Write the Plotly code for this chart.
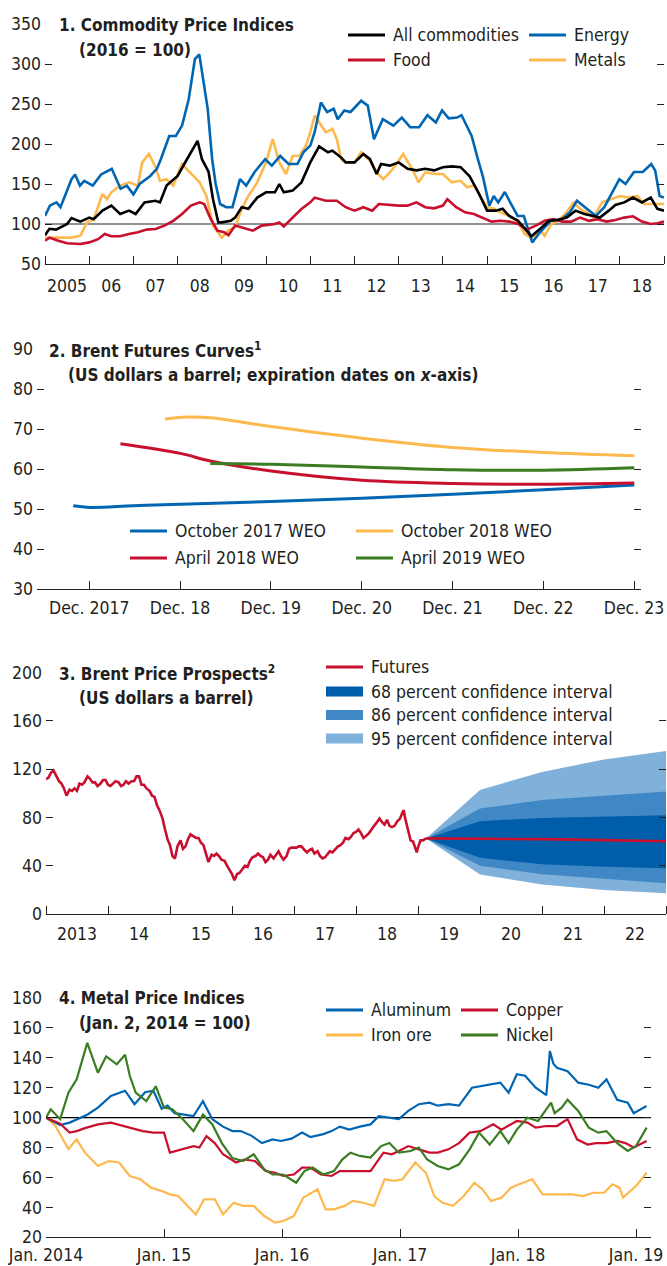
import plotly.graph_objects as go

W, H = 667, 1266
FONT = "'DejaVu Sans Condensed', 'Liberation Sans Narrow', 'Arial Narrow', sans-serif"
TXT = "#231F20"
FS = 17.5
FS_TITLE = 17

# ---------------- Panel 1: Commodity price indices (2016 = 100) ----------------
P1_YEARS = list(range(2005, 2020))
P1_LABELS = ["2005", "06", "07", "08", "09", "10", "11", "12", "13", "14", "15", "16", "17", "18"]
P1_BASE = 100
ENERGY = [(2005.00, 110), (2005.11, 123), (2005.26, 127), (2005.35, 121), (2005.60, 156), (2005.68, 162),
          (2005.79, 148), (2005.89, 154), (2006.08, 148), (2006.27, 162), (2006.51, 169), (2006.71, 144),
          (2006.85, 148), (2007.00, 137), (2007.14, 150), (2007.38, 160), (2007.53, 169), (2007.62, 181),
          (2007.81, 210), (2007.96, 210), (2008.10, 223), (2008.25, 256), (2008.39, 306), (2008.49, 312),
          (2008.68, 244), (2008.78, 181), (2008.86, 150), (2008.96, 125), (2009.10, 121), (2009.24, 121),
          (2009.41, 156), (2009.55, 148), (2009.74, 165), (2009.98, 181), (2010.13, 173), (2010.32, 185),
          (2010.51, 175), (2010.71, 175), (2010.85, 190), (2011.00, 198), (2011.10, 215), (2011.24, 252),
          (2011.38, 240), (2011.53, 244), (2011.62, 231), (2011.77, 242), (2011.91, 240), (2012.15, 254),
          (2012.30, 248), (2012.44, 206), (2012.64, 231), (2012.88, 223), (2013.07, 233), (2013.26, 221),
          (2013.46, 221), (2013.65, 236), (2013.84, 227), (2013.98, 242), (2014.13, 232), (2014.32, 233),
          (2014.42, 236), (2014.56, 221), (2014.65, 210), (2014.79, 181), (2014.90, 160), (2015.05, 123),
          (2015.15, 135), (2015.25, 127), (2015.40, 140), (2015.54, 125), (2015.69, 110), (2015.83, 110),
          (2016.02, 77), (2016.20, 90), (2016.44, 104), (2016.69, 106), (2016.88, 115), (2017.03, 129),
          (2017.17, 123), (2017.31, 117), (2017.46, 110), (2017.65, 121), (2017.84, 140), (2017.99, 156),
          (2018.13, 150), (2018.32, 165), (2018.52, 165), (2018.71, 175), (2018.80, 167), (2018.90, 135),
          (2019.00, 133)]
FOOD = [(2005.00, 79), (2005.10, 83), (2005.30, 79), (2005.50, 76), (2005.80, 75), (2006.00, 77),
        (2006.20, 81), (2006.35, 87.5), (2006.50, 84.6), (2006.70, 84.6), (2006.90, 87.5), (2007.10, 89.6),
        (2007.30, 93), (2007.50, 93.8), (2007.70, 98), (2007.90, 104), (2008.10, 112.5), (2008.30, 123),
        (2008.50, 127), (2008.60, 125), (2008.75, 106), (2008.90, 91.7), (2009.05, 89.6), (2009.15, 86),
        (2009.30, 98), (2009.50, 95), (2009.70, 91.7), (2009.90, 98), (2010.20, 100), (2010.30, 102),
        (2010.40, 97), (2010.60, 108), (2010.80, 118.8), (2011.00, 127), (2011.10, 133), (2011.35, 129),
        (2011.60, 129), (2011.80, 121), (2012.00, 116.7), (2012.20, 121), (2012.40, 116.7), (2012.55, 125),
        (2012.80, 123.8), (2013.00, 123), (2013.20, 123), (2013.40, 127), (2013.60, 121), (2013.80, 119.6),
        (2014.00, 123), (2014.10, 131), (2014.30, 121), (2014.50, 114.6), (2014.70, 112.5), (2014.90, 108),
        (2015.10, 103), (2015.30, 104), (2015.50, 103), (2015.70, 100), (2015.90, 93), (2016.10, 98),
        (2016.30, 104), (2016.50, 106), (2016.70, 103), (2016.90, 103), (2017.10, 108), (2017.30, 104),
        (2017.50, 106), (2017.70, 103), (2017.90, 105), (2018.10, 108), (2018.30, 109.6), (2018.50, 103),
        (2018.70, 100), (2018.85, 101), (2019.00, 103)]
ALL_COMMODITIES = [(2005.00, 86), (2005.10, 94), (2005.25, 93), (2005.50, 100), (2005.60, 107.5), (2005.80, 103),
                   (2006.00, 108), (2006.10, 106), (2006.30, 116.7), (2006.50, 123), (2006.70, 112.5),
                   (2006.90, 116.7), (2007.05, 112.5), (2007.25, 127), (2007.50, 129), (2007.60, 127),
                   (2007.75, 148), (2008.00, 160), (2008.15, 175), (2008.35, 194), (2008.45, 204),
                   (2008.55, 181), (2008.70, 165), (2008.80, 131), (2008.92, 102), (2009.00, 102),
                   (2009.20, 104), (2009.30, 108), (2009.45, 121), (2009.60, 119), (2009.80, 133),
                   (2010.00, 139.6), (2010.20, 139.6), (2010.30, 150), (2010.40, 139.6), (2010.60, 141.7),
                   (2010.80, 152), (2011.00, 177), (2011.20, 197), (2011.40, 189.6), (2011.50, 191.7),
                   (2011.70, 183), (2011.80, 177), (2012.00, 177), (2012.20, 187.5), (2012.35, 181),
                   (2012.50, 162.5), (2012.60, 175), (2012.80, 173), (2013.00, 177), (2013.20, 169),
                   (2013.40, 167), (2013.60, 169), (2013.80, 167), (2014.00, 171), (2014.20, 172),
                   (2014.40, 171), (2014.60, 160), (2014.80, 139.6), (2015.00, 116.7), (2015.20, 116.7),
                   (2015.35, 119), (2015.50, 110), (2015.70, 104), (2015.85, 94), (2016.00, 84.6),
                   (2016.20, 94), (2016.40, 104), (2016.60, 105), (2016.80, 108), (2017.00, 116.7),
                   (2017.20, 112.5), (2017.40, 110), (2017.55, 108), (2017.75, 116.7), (2017.90, 123.8),
                   (2018.10, 127), (2018.30, 133), (2018.50, 127), (2018.70, 133), (2018.85, 119),
                   (2019.00, 116.7)]
METALS = [(2005.00, 83), (2005.30, 83), (2005.60, 83), (2005.80, 85.4), (2005.95, 102), (2006.10, 106),
          (2006.30, 137.5), (2006.40, 131), (2006.50, 139.6), (2006.70, 148), (2006.90, 152), (2007.10, 148),
          (2007.20, 177), (2007.35, 187.5), (2007.50, 171), (2007.60, 154), (2007.75, 156), (2007.90, 148),
          (2008.10, 175), (2008.20, 169), (2008.35, 160), (2008.50, 152), (2008.65, 135), (2008.80, 98),
          (2009.00, 83), (2009.15, 92), (2009.30, 96), (2009.45, 119), (2009.60, 135), (2009.80, 152),
          (2010.00, 177), (2010.15, 206), (2010.30, 177), (2010.45, 162.5), (2010.60, 185), (2010.75, 185.4),
          (2010.90, 198), (2011.00, 214.6), (2011.10, 235.6), (2011.20, 227), (2011.35, 214.6), (2011.50, 219),
          (2011.60, 206), (2011.70, 181), (2011.80, 177), (2012.00, 177), (2012.15, 189.6), (2012.35, 179),
          (2012.50, 164.6), (2012.65, 156), (2012.80, 164.6), (2012.95, 175), (2013.10, 187.5),
          (2013.30, 169), (2013.45, 152), (2013.60, 164.6), (2013.80, 162.5), (2014.00, 162.5),
          (2014.20, 152), (2014.40, 154), (2014.55, 146), (2014.70, 148), (2014.85, 135), (2015.00, 121),
          (2015.15, 119), (2015.30, 114.6), (2015.50, 110), (2015.70, 102), (2015.85, 87.5), (2016.00, 83),
          (2016.20, 92), (2016.30, 85.4), (2016.45, 100), (2016.60, 104), (2016.80, 114.6), (2016.95, 127),
          (2017.10, 119), (2017.25, 114.6), (2017.40, 108), (2017.60, 127), (2017.80, 131), (2018.00, 135),
          (2018.20, 133), (2018.40, 135), (2018.55, 125), (2018.75, 125), (2019.00, 125)]

# ---------------- Panel 2: Brent futures curves ----------------
P2_TICKS = [2017.917, 2018.917, 2019.917, 2020.917, 2021.917, 2022.917, 2023.917]
P2_LABELS = ["Dec. 2017", "Dec. 18", "Dec. 19", "Dec. 20", "Dec. 21", "Dec. 22", "Dec. 23"]
OCT2017_WEO = [(2017.74, 50.8), (2017.92, 50.4), (2018.40, 50.8), (2018.92, 51.2), (2019.92, 51.9),
               (2020.92, 52.7), (2021.92, 53.7), (2022.92, 54.8), (2023.92, 56.0)]
OCT2018_WEO = [(2018.75, 72.5), (2019.00, 73.0), (2019.25, 72.8), (2019.92, 70.6), (2020.92, 67.7),
               (2021.92, 65.4), (2022.92, 64.1), (2023.92, 63.3)]
APR2018_WEO = [(2018.26, 66.3), (2018.92, 63.9), (2019.25, 62.0), (2019.92, 59.5), (2020.92, 57.2),
               (2021.92, 56.4), (2022.92, 56.2), (2023.92, 56.5)]
APR2019_WEO = [(2019.25, 61.4), (2019.92, 61.2), (2020.92, 60.5), (2021.92, 59.8), (2022.92, 59.7),
               (2023.92, 60.3)]

# ---------------- Panel 3: Brent price prospects ----------------
P3_YEARS = list(range(2013, 2024))
P3_LABELS = ["2013", "14", "15", "16", "17", "18", "19", "20", "21", "22"]
BRENT = [(2013.00, 111.6), (2013.04, 113), (2013.08, 117), (2013.12, 119), (2013.17, 114), (2013.21, 110),
         (2013.25, 108), (2013.29, 104), (2013.33, 98), (2013.38, 103), (2013.42, 102), (2013.46, 104),
         (2013.50, 102), (2013.54, 108), (2013.58, 107), (2013.62, 109), (2013.67, 114), (2013.71, 112),
         (2013.75, 109), (2013.79, 109), (2013.83, 106), (2013.88, 108), (2013.92, 111), (2013.96, 111),
         (2014.00, 107), (2014.04, 106), (2014.08, 108), (2014.12, 110), (2014.17, 109), (2014.21, 106),
         (2014.25, 107), (2014.29, 110), (2014.33, 108), (2014.38, 110), (2014.42, 110), (2014.46, 114),
         (2014.50, 114), (2014.54, 107), (2014.58, 107), (2014.62, 104), (2014.67, 102), (2014.71, 98),
         (2014.75, 97), (2014.79, 90), (2014.83, 86), (2014.88, 79), (2014.92, 70), (2014.96, 62),
         (2015.00, 57), (2015.04, 48), (2015.08, 46), (2015.12, 56), (2015.17, 61), (2015.21, 54),
         (2015.25, 56), (2015.29, 62), (2015.33, 66), (2015.38, 64), (2015.42, 63), (2015.46, 63),
         (2015.50, 59), (2015.54, 57), (2015.58, 50), (2015.62, 43), (2015.67, 49), (2015.71, 48),
         (2015.75, 50), (2015.79, 48), (2015.83, 45), (2015.88, 44), (2015.92, 40), (2015.96, 37),
         (2016.00, 33), (2016.04, 28), (2016.08, 33), (2016.12, 34), (2016.17, 37), (2016.21, 40),
         (2016.25, 39), (2016.29, 44), (2016.33, 47), (2016.38, 48), (2016.42, 50), (2016.46, 48),
         (2016.50, 47), (2016.54, 43), (2016.58, 45), (2016.62, 49), (2016.67, 46), (2016.71, 49),
         (2016.75, 52), (2016.79, 48), (2016.83, 45), (2016.88, 48), (2016.92, 54), (2016.96, 55),
         (2017.00, 55), (2017.04, 55), (2017.08, 56), (2017.12, 56), (2017.17, 53), (2017.21, 51),
         (2017.25, 53), (2017.29, 54), (2017.33, 50), (2017.38, 52), (2017.42, 48), (2017.46, 46),
         (2017.50, 47), (2017.54, 50), (2017.58, 52), (2017.62, 51), (2017.67, 54), (2017.71, 56),
         (2017.75, 57), (2017.79, 59), (2017.83, 63), (2017.88, 62), (2017.92, 64), (2017.96, 67),
         (2018.00, 68), (2018.04, 70), (2018.08, 67), (2018.12, 63), (2018.17, 65), (2018.21, 67),
         (2018.25, 70), (2018.29, 73), (2018.33, 76), (2018.38, 79), (2018.42, 76), (2018.46, 74),
         (2018.50, 78), (2018.54, 73), (2018.58, 72), (2018.62, 73), (2018.67, 77), (2018.71, 79),
         (2018.75, 84), (2018.77, 86), (2018.79, 80), (2018.83, 72), (2018.88, 61), (2018.92, 60),
         (2018.96, 53), (2018.98, 51), (2019.00, 55), (2019.04, 61), (2019.08, 61), (2019.13, 62.6)]
FAN_X = [2019.13, 2020.0, 2021.0, 2022.0, 2023.0]
FUTURES = [62.6, 62.6, 62.0, 61.2, 60.3]
CI68_HI = [62.6, 76.9, 79.6, 80.7, 81.8]
CI68_LO = [62.6, 46.5, 41.3, 39.1, 37.8]
CI86_HI = [62.6, 87.3, 94.5, 97.8, 101.4]
CI86_LO = [62.6, 39.9, 33.0, 29.5, 25.4]
CI95_HI = [62.6, 102.7, 117.6, 128.0, 135.0]
CI95_LO = [62.6, 32.8, 24.5, 19.8, 17.1]

# ---------------- Panel 4: Metal price indices (Jan. 2, 2014 = 100) ----------------
P4_TICKS = [2014, 2015, 2016, 2017, 2018, 2019]
P4_LABELS = ["Jan. 2014", "Jan. 15", "Jan. 16", "Jan. 17", "Jan. 18", "Jan. 19"]
P4_BASE = 100
ALUMINUM = [(2014.00, 100), (2014.12, 95), (2014.20, 96.7), (2014.26, 99), (2014.35, 102), (2014.44, 106.7),
            (2014.55, 114.5), (2014.67, 118), (2014.75, 109), (2014.84, 117), (2014.91, 118), (2014.98, 106),
            (2015.03, 108), (2015.09, 103), (2015.16, 102), (2015.25, 101), (2015.33, 111), (2015.41, 99),
            (2015.50, 94), (2015.58, 91), (2015.65, 91), (2015.74, 88), (2015.83, 83), (2015.92, 85.5),
            (2015.99, 84.4), (2016.08, 86), (2016.17, 90), (2016.24, 87), (2016.35, 89), (2016.42, 91),
            (2016.49, 94), (2016.57, 92), (2016.66, 94), (2016.75, 95.5), (2016.82, 101), (2016.91, 100),
            (2016.99, 99), (2017.07, 104.5), (2017.16, 109), (2017.25, 110), (2017.32, 108), (2017.41, 109),
            (2017.50, 108), (2017.61, 120), (2017.68, 121), (2017.77, 122), (2017.85, 123.4), (2017.92, 116.7),
            (2017.99, 129), (2018.06, 128), (2018.15, 120), (2018.24, 115), (2018.27, 144.6), (2018.30, 136),
            (2018.33, 133.4), (2018.42, 131), (2018.51, 123.4), (2018.60, 122), (2018.68, 120),
            (2018.75, 125.6), (2018.84, 112), (2018.93, 110), (2018.98, 103), (2019.09, 107.8)]
COPPER = [(2014.00, 100), (2014.12, 96), (2014.20, 90), (2014.26, 91), (2014.33, 93), (2014.44, 95.5),
          (2014.55, 96.7), (2014.66, 94.4), (2014.73, 92.6), (2014.82, 91), (2014.91, 90), (2015.00, 90),
          (2015.05, 76.6), (2015.16, 78.8), (2015.25, 81), (2015.30, 80), (2015.36, 87.7), (2015.43, 83),
          (2015.50, 75.5), (2015.61, 70), (2015.68, 72), (2015.77, 71), (2015.86, 64.3), (2015.94, 63.2),
          (2016.01, 61), (2016.10, 62), (2016.17, 66.6), (2016.24, 66.6), (2016.33, 62), (2016.42, 61),
          (2016.49, 64.3), (2016.58, 64.3), (2016.66, 64.3), (2016.75, 64.3), (2016.86, 76.6), (2016.93, 75.5),
          (2016.99, 77.7), (2017.07, 81), (2017.16, 78.8), (2017.25, 76.6), (2017.32, 76.6), (2017.41, 78.8),
          (2017.50, 83), (2017.59, 90), (2017.68, 91), (2017.79, 95.5), (2017.86, 92), (2017.94, 95.5),
          (2017.99, 97.8), (2018.08, 96.7), (2018.15, 93.3), (2018.24, 94.4), (2018.33, 94.4), (2018.42, 99),
          (2018.50, 85.5), (2018.59, 82), (2018.66, 83), (2018.75, 83), (2018.84, 84.4), (2018.91, 83),
          (2018.98, 80), (2019.09, 84.4)]
IRON_ORE = [(2014.00, 100), (2014.08, 94.4), (2014.19, 79), (2014.26, 85.5), (2014.33, 76.6), (2014.44, 67.7),
            (2014.53, 71), (2014.62, 70), (2014.71, 61), (2014.80, 58.8), (2014.89, 53.2), (2014.98, 51),
            (2015.05, 48.7), (2015.12, 47.6), (2015.20, 41), (2015.27, 35.3), (2015.34, 45.4), (2015.43, 45.4),
            (2015.50, 35.3), (2015.59, 43.1), (2015.67, 41), (2015.76, 41), (2015.85, 34.2), (2015.94, 29.8),
            (2016.01, 30.9), (2016.10, 34.2), (2016.18, 46.5), (2016.30, 52), (2016.37, 38.7), (2016.44, 38.7),
            (2016.53, 41), (2016.60, 44.3), (2016.69, 43.1), (2016.78, 41), (2016.87, 58.8), (2016.95, 57.7),
            (2017.02, 58.8), (2017.13, 70), (2017.22, 63), (2017.29, 47.6), (2017.36, 43.1), (2017.45, 41),
            (2017.54, 47.6), (2017.63, 56.5), (2017.70, 52), (2017.77, 44.3), (2017.86, 46.5), (2017.94, 53.2),
            (2018.01, 55.4), (2018.12, 58.8), (2018.21, 48.7), (2018.28, 48.7), (2018.37, 48.7),
            (2018.46, 48.7), (2018.55, 47.6), (2018.64, 49.8), (2018.73, 49.8), (2018.80, 55.4),
            (2018.86, 53.2), (2018.89, 46.5), (2019.00, 54.3), (2019.09, 63.2)]
NICKEL = [(2014.00, 100), (2014.04, 105.6), (2014.12, 99), (2014.19, 116.7), (2014.26, 125.6), (2014.35, 150),
          (2014.44, 130), (2014.51, 141), (2014.60, 135.7), (2014.67, 142), (2014.71, 128), (2014.76, 116.7),
          (2014.85, 111), (2014.93, 121), (2015.00, 106.7), (2015.07, 105.6), (2015.16, 99), (2015.25, 91),
          (2015.33, 102), (2015.41, 95.5), (2015.49, 83), (2015.58, 73), (2015.67, 71), (2015.76, 75.5),
          (2015.85, 65.4), (2015.92, 62), (2016.01, 62), (2016.12, 56.5), (2016.19, 64.3), (2016.26, 66.6),
          (2016.35, 62), (2016.44, 64.3), (2016.51, 72), (2016.58, 76.6), (2016.66, 74.4), (2016.75, 73.3),
          (2016.84, 81), (2016.91, 83), (2016.99, 76.6), (2017.09, 77.7), (2017.16, 80), (2017.23, 72),
          (2017.32, 67.7), (2017.41, 65.4), (2017.50, 68.8), (2017.59, 78.8), (2017.67, 90), (2017.76, 82),
          (2017.85, 91), (2017.92, 83), (2017.99, 92), (2018.08, 100), (2018.17, 97.8), (2018.28, 110),
          (2018.31, 103), (2018.37, 106.7), (2018.42, 112), (2018.51, 104.5), (2018.60, 93.3), (2018.68, 90),
          (2018.75, 91), (2018.84, 83), (2018.93, 77.7), (2019.00, 81), (2019.09, 93.3)]

# ---------------- colours ----------------
C_BLACK = "#000000"
C_BLUE = "#0066B3"
C_RED = "#C8102E"
C_YELLOW = "#FDB94E"
C_GREEN = "#3B7D23"
C_68 = "#005DA9"
C_86 = "#3F88C5"
C_95 = "#80B1DA"
C_BASE1 = "#6E6E6E"


def px(x):
    return x / W


def py(y):
    return 1 - y / H


fig = go.Figure()


def add_line(xy, color, width, n, shape="linear"):
    xs = [p[0] for p in xy]
    ys = [p[1] for p in xy]
    fig.add_trace(go.Scatter(x=xs, y=ys, mode="lines", xaxis="x" + n, yaxis="y" + n,
                             line=dict(color=color, width=width, shape=shape),
                             showlegend=False, hoverinfo="skip"))


# Panel 1
for series, col in [(METALS, C_YELLOW), (ENERGY, C_BLUE), (FOOD, C_RED), (ALL_COMMODITIES, C_BLACK)]:
    add_line(series, col, 2.6, "")

# Panel 2
for series, col in [(OCT2017_WEO, C_BLUE), (OCT2018_WEO, C_YELLOW), (APR2018_WEO, C_RED), (APR2019_WEO, C_GREEN)]:
    add_line(series, col, 3, "2", shape="spline")

# Panel 3 fan chart
for hi, lo, col in [(CI95_HI, CI95_LO, C_95), (CI86_HI, CI86_LO, C_86), (CI68_HI, CI68_LO, C_68)]:
    fig.add_trace(go.Scatter(x=FAN_X + FAN_X[::-1], y=hi + lo[::-1], mode="lines", fill="toself",
                             fillcolor=col, line=dict(width=0, color=col), xaxis="x3", yaxis="y3",
                             showlegend=False, hoverinfo="skip"))
add_line(BRENT, C_RED, 2.6, "3")
fig.add_trace(go.Scatter(x=FAN_X, y=FUTURES, mode="lines", line=dict(color=C_RED, width=2.6),
                         xaxis="x3", yaxis="y3", showlegend=False, hoverinfo="skip"))

# Panel 4
for series, col in [(IRON_ORE, C_YELLOW), (ALUMINUM, C_BLUE), (COPPER, C_RED), (NICKEL, C_GREEN)]:
    add_line(series, col, 2.2, "4")

# ---------------- axes ----------------
tickfont = dict(family=FONT, size=FS, color=TXT)


def yax(top, bottom, rng, dtick, anchor):
    return dict(domain=[py(bottom), py(top)], range=rng, tickmode="linear", tick0=rng[0], dtick=dtick,
                ticks="inside", ticklen=7, tickwidth=1.3, tickcolor=TXT, mirror="ticks",
                showline=False, showgrid=False, zeroline=False, anchor=anchor, tickfont=tickfont,
                ticklabelstandoff=3, fixedrange=True, automargin=False, ticklabeloverflow="allow")


def xax(left, right, rng, anchor, tickvals, ticktext, minor_vals=None, standoff=6):
    d = dict(domain=[px(left), px(right)], range=rng, tickmode="array", tickvals=tickvals, ticktext=ticktext,
             showline=True, linecolor=TXT, linewidth=1.3, showgrid=False, zeroline=False, anchor=anchor,
             tickfont=tickfont, ticklabelstandoff=standoff, fixedrange=True, tickangle=0,
             automargin=False, ticklabeloverflow="allow")
    if minor_vals is None:
        d.update(ticks="inside", ticklen=8, tickwidth=1.3, tickcolor=TXT)
    else:
        d.update(ticks="", minor=dict(tickmode="array", tickvals=minor_vals, ticks="inside", ticklen=8,
                                      tickwidth=1.3, tickcolor=TXT, showgrid=False))
    return d


fig.update_layout(
    width=W, height=H, margin=dict(l=0, r=0, t=0, b=0, autoexpand=False), paper_bgcolor="white",
    plot_bgcolor="white", showlegend=False, font=dict(family=FONT, size=FS, color=TXT),
    xaxis=xax(45, 664, [2005, 2019], "y", [y + 0.5 for y in P1_YEARS[:-1]], P1_LABELS, P1_YEARS, standoff=6),
    yaxis=yax(24, 264, [50, 350], 50, "x"),
    xaxis2=xax(37, 641, [2017.341, 2023.994], "y2", P2_TICKS, P2_LABELS, standoff=3),
    yaxis2=yax(349, 589, [30, 90], 10, "x2"),
    xaxis3=xax(46, 666, [2013, 2023], "y3", [y + 0.5 for y in P3_YEARS[:-1]], P3_LABELS, P3_YEARS, standoff=4),
    yaxis3=yax(672.5, 914, [0, 200], 40, "x3"),
    xaxis4=xax(46, 651, [2014, 2019.127], "y4", P4_TICKS, P4_LABELS, standoff=2),
    yaxis4=yax(998, 1237.3, [20, 180], 20, "x4"),
)

# baselines at 100
fig.add_shape(type="line", xref="x domain", yref="y", x0=0, x1=1, y0=P1_BASE, y1=P1_BASE,
              line=dict(color=C_BASE1, width=1.5), layer="below")
fig.add_shape(type="line", xref="x4 domain", yref="y4", x0=0, x1=1, y0=P4_BASE, y1=P4_BASE,
              line=dict(color=C_BLACK, width=1.2), layer="below")


# ---------------- titles ----------------
def text(x, y, s, size=FS):
    fig.add_annotation(xref="paper", yref="paper", x=px(x), y=py(y), xanchor="left", yanchor="middle",
                       text=s, showarrow=False, font=dict(family=FONT, size=size, color=TXT))


text(57, 25, "<b>1. Commodity Price Indices</b>", FS_TITLE)
text(77, 50, "<b>(2016 = 100)</b>", FS_TITLE)
text(47, 350, "<b>2. Brent Futures Curves<sup>1</sup></b>", FS_TITLE)
text(66, 375, "<b>(US dollars a barrel; expiration dates on <i>x</i>-axis)</b>", FS_TITLE)
text(57, 673, "<b>3. Brent Price Prospects<sup>2</sup></b>", FS_TITLE)
text(77, 698, "<b>(US dollars a barrel)</b>", FS_TITLE)
text(57, 998, "<b>4. Metal Price Indices</b>", FS_TITLE)
text(77, 1023, "<b>(Jan. 2, 2014 = 100)</b>", FS_TITLE)


# ---------------- legends (drawn by hand for compact row spacing) ----------------
def add_legend(entries, col_x, row_y, sample_w=37, gap=6):
    ncols = len(col_x)
    for i, (label, color, kind) in enumerate(entries):
        c, r = i % ncols, i // ncols
        x0, y = col_x[c], row_y[r]
        if kind == "line":
            fig.add_shape(type="line", xref="paper", yref="paper", x0=px(x0), x1=px(x0 + sample_w),
                          y0=py(y), y1=py(y), line=dict(color=color, width=3))
        else:
            fig.add_shape(type="rect", xref="paper", yref="paper", x0=px(x0), x1=px(x0 + sample_w),
                          y0=py(y + 5), y1=py(y - 5), fillcolor=color, line=dict(width=0))
        text(x0 + sample_w + gap, y, label)


add_legend([("All commodities", C_BLACK, "line"), ("Energy", C_BLUE, "line"),
            ("Food", C_RED, "line"), ("Metals", C_YELLOW, "line")], [348, 529], [35, 60])
add_legend([("October 2017 WEO", C_BLUE, "line"), ("October 2018 WEO", C_YELLOW, "line"),
            ("April 2018 WEO", C_RED, "line"), ("April 2019 WEO", C_GREEN, "line")], [130, 356], [531, 558])
add_legend([("Futures", C_RED, "line"), ("68 percent confidence interval", C_68, "box"),
            ("86 percent confidence interval", C_86, "box"), ("95 percent confidence interval", C_95, "box")],
           [326], [667, 691.5, 715, 738.5])
add_legend([("Aluminum", C_BLUE, "line"), ("Copper", C_RED, "line"),
            ("Iron ore", C_YELLOW, "line"), ("Nickel", C_GREEN, "line")], [326, 461], [1010, 1035])

fig.write_html("out.html", config={"displayModeBar": False})
